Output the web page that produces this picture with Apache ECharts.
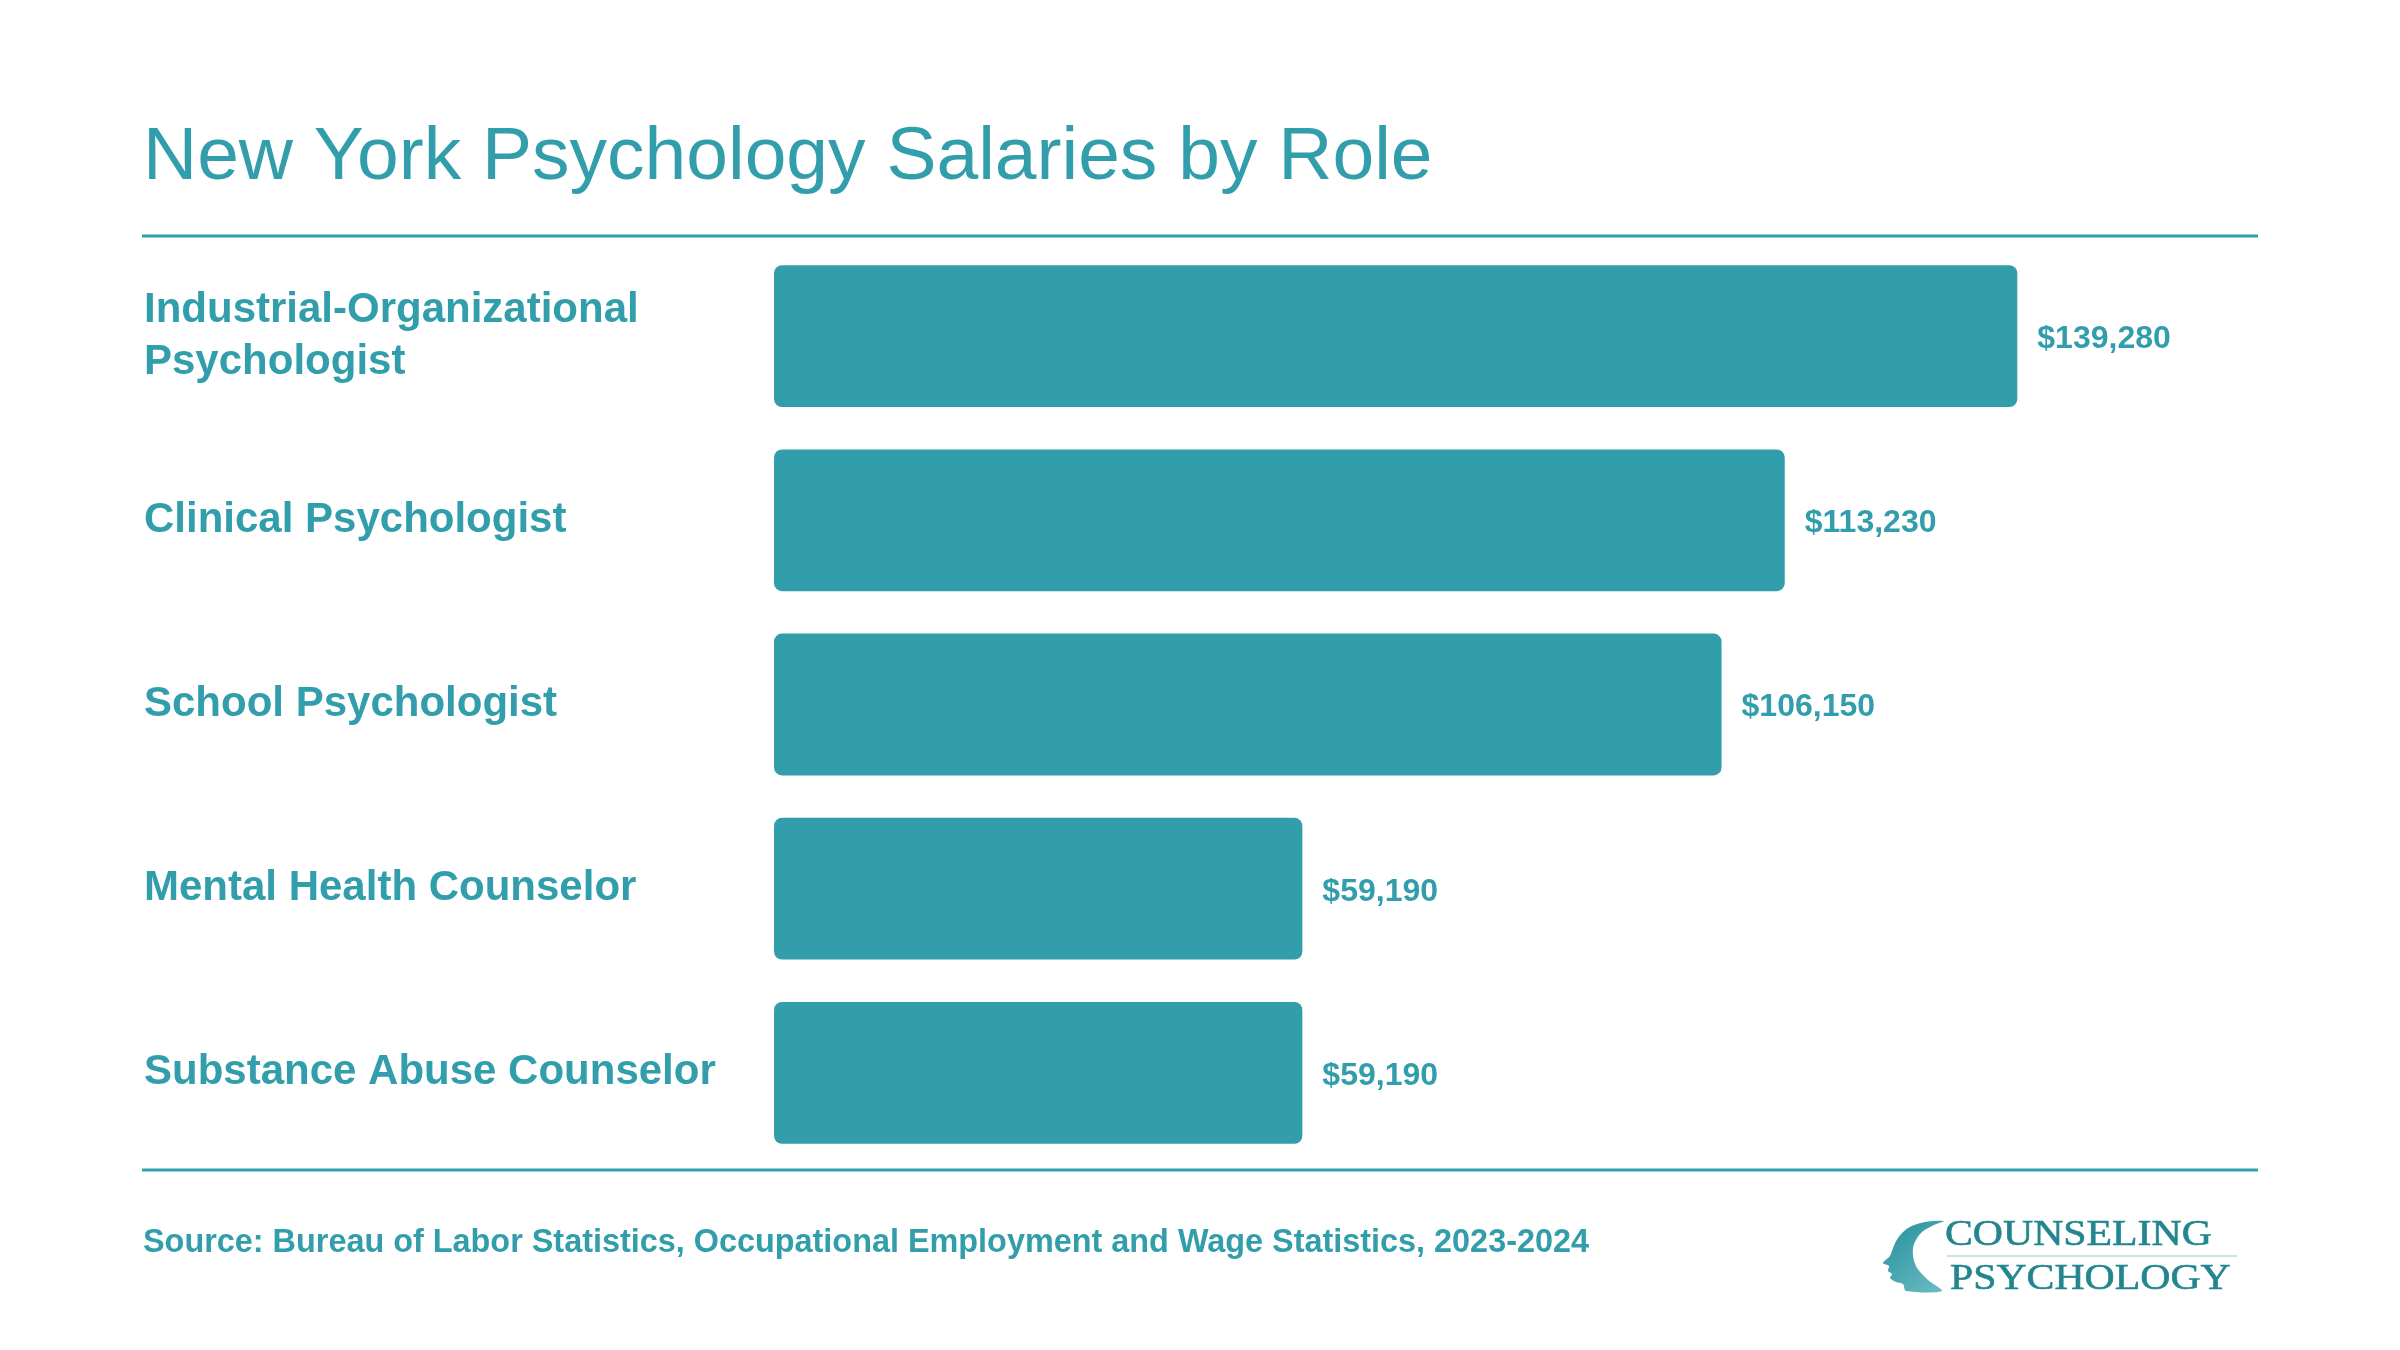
<!DOCTYPE html>
<html>
<head>
<meta charset="utf-8">
<script src="https://cdn.jsdelivr.net/npm/echarts@6/dist/echarts.min.js"></script>
<style>
  html, body { margin: 0; padding: 0; background: #fff; }
  #chart { width: 2400px; height: 1350px; }
</style>
</head>
<body>
<div id="chart"></div>
<script>
(function(){

var roles = [
	'Industrial-Organizational\nPsychologist',
	'Clinical Psychologist',
	'School Psychologist',
	'Mental Health Counselor',
	'Substance Abuse Counselor'
];
var salaries = [139280, 113230, 106150, 59190, 59190];

var titleText = 'New York Psychology Salaries by Role';
var sourceText = 'Source: Bureau of Labor Statistics, Occupational Employment and Wage Statistics, 2023-2024';

var teal = '#329eab';
var logoTeal = '#23868f';
var font = '"Liberation Sans", Arial, sans-serif';

function money(v) {
	return '$' + v.toLocaleString('en-US');
}

// head silhouette of the logo
var headOutline = [
	[1944,1221],[1925,1222],[1908,1228],[1898,1238],[1893,1248],[1890,1256],
	[1883,1263],[1889,1266],[1888,1271],[1892,1274],[1890,1278],[1896,1282],
	[1903,1284],[1906,1291],[1942,1291],[1928,1280],[1917,1268],[1913,1256],
	[1914,1244],[1922,1232],[1934,1225]
];

var chart = echarts.init(document.getElementById('chart'));

var option = {
	backgroundColor: '#ffffff',
	animation: false,
	grid: { left: 774, right: 287, top: 244, bottom: 185, containLabel: false },
	xAxis: {
		type: 'value',
		min: 0,
		max: 150000,
		show: false
	},
	yAxis: {
		type: 'category',
		data: roles,
		inverse: true,
		axisLine: { show: false },
		axisTick: { show: false },
		splitLine: { show: false },
		axisLabel: {
			align: 'left',
			margin: 630,
			color: teal,
			fontFamily: font,
			fontWeight: 'bold',
			fontSize: 42,
			lineHeight: 52,
			padding: [6, 0, 0, 0]
		}
	},
	series: [{
		type: 'bar',
		data: salaries,
		barCategoryGap: '23%',
		itemStyle: { color: teal, borderRadius: 8 },
		label: {
			show: true,
			position: 'right',
			distance: 20,
			offset: [0, 3],
			color: teal,
			fontFamily: font,
			fontWeight: 'bold',
			fontSize: 32,
			formatter: function(p){ return money(p.value) }
		}
	}],
	graphic: [
		{ type: 'text', x: 143, y: 158, style: {
			text: titleText, fill: teal, font: '75px ' + font, verticalAlign: 'middle'
		}},
		{ type: 'line', shape: { x1: 142, y1: 236, x2: 2258, y2: 236 },
			style: { stroke: teal, lineWidth: 3 } },
		{ type: 'line', shape: { x1: 142, y1: 1170, x2: 2258, y2: 1170 },
			style: { stroke: teal, lineWidth: 3 } },
		{ type: 'text', x: 143, y: 1243, style: {
			text: sourceText, fill: teal, font: 'bold 32.4px ' + font, verticalAlign: 'middle'
		}},
		// logo
		{ type: 'polygon', shape: { points: headOutline, smooth: 0.3 }, style: {
			fill: {
				type: 'linear', x: 0, y: 0, x2: 1, y2: 1,
				colorStops: [{ offset: 0, color: '#23909c' }, { offset: 1, color: '#6dbcc4' }]
			}
		}},
		{ type: 'text', x: 1945, y: 1236, scaleX: 1.16, style: {
			text: 'COUNSELING', fill: logoTeal, font: '36px "Liberation Serif", serif', verticalAlign: 'middle',
			stroke: logoTeal, lineWidth: 0.6
		}},
		{ type: 'line', shape: { x1: 1947, y1: 1256, x2: 2237, y2: 1256 },
			style: { stroke: '#b5dde1', lineWidth: 1.5 } },
		{ type: 'text', x: 1950, y: 1280, scaleX: 1.16, style: {
			text: 'PSYCHOLOGY', fill: logoTeal, font: '36px "Liberation Serif", serif', verticalAlign: 'middle',
			stroke: logoTeal, lineWidth: 0.6
		}}
	]
};

chart.setOption(option);

})()
</script>
</body>
</html>
